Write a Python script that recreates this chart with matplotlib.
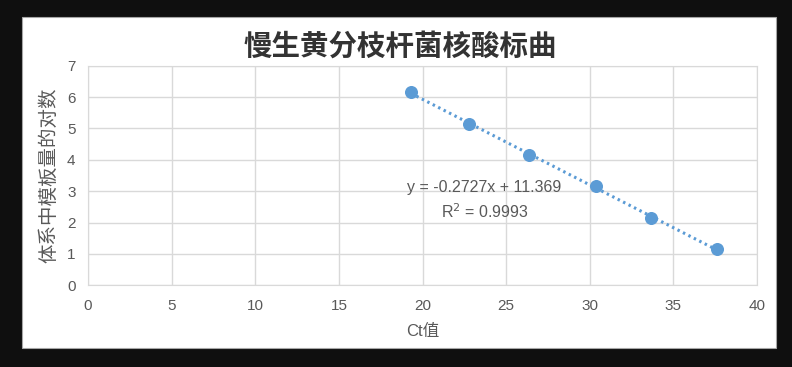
import numpy as np
import matplotlib.pyplot as plt
from matplotlib.patches import Rectangle

# Ct values and log of template amount
ct = [19.31, 22.79, 26.36, 30.40, 33.65, 37.62]
log_amount = [6.15, 5.15, 4.15, 3.15, 2.15, 1.15]
x_ticks = [0, 5, 10, 15, 20, 25, 30, 35, 40]
y_ticks = [0, 1, 2, 3, 4, 5, 6, 7]
title = '慢生黄分枝杆菌核酸标曲'
x_label = 'Ct值'
y_label = '体系中模板量的对数'
eq_text = 'y = -0.2727x + 11.369'
r2_text = 'R$^2$ = 0.9993'

plt.rcParams['font.family'] = ['Liberation Sans', 'Noto Sans CJK SC', 'DejaVu Sans']
blue = '#5b9bd5'
grey = '#595959'

fig = plt.figure(figsize=(7.92, 3.67), dpi=100, facecolor='#0f0f0f')
# white chart area with a thin border
fig.patches.append(Rectangle((22/792, 1-348/367), 754/792, 331/367, transform=fig.transFigure,
                             facecolor='white', edgecolor='#a6a6a6', lw=0.8, zorder=-5))

ax = fig.add_axes([88/792, 1-285.3/367, (757-88)/792, (285.3-65.7)/367])
ax.set_facecolor('white')
ax.set_xlim(0, 40)
ax.set_ylim(0, 7)
ax.set_xticks(x_ticks)
ax.set_yticks(y_ticks)
ax.grid(True, color='#d9d9d9', lw=1)
ax.set_axisbelow(True)
for s in ax.spines.values():
    s.set_color('#d9d9d9')
ax.tick_params(length=0, colors=grey, labelsize=11)
ax.tick_params(axis='x', pad=10)
ax.tick_params(axis='y', pad=9)

# linear fit trendline
k, b = np.polyfit(ct, log_amount, 1)
xs = np.array([min(ct), max(ct)])
ax.plot(xs, k*xs + b, color=blue, lw=2.2, ls=(0, (0.8, 1.2)), zorder=2)
ax.scatter(ct, log_amount, s=70, color=blue, zorder=3)

ax.text(23.7, 3.13, eq_text, ha='center', va='center', fontsize=11.5, color=grey, family=['Liberation Sans', 'DejaVu Sans'])
ax.text(23.7, 2.36, r2_text, ha='center', va='center', fontsize=11.5, color=grey, family=['Liberation Sans', 'DejaVu Sans'])

ax.set_xlabel(x_label, fontsize=12, color=grey, labelpad=8)
ax.set_ylabel(y_label, fontsize=14, color=grey, labelpad=6)

fig.text(400/792, 1-47/367, title, ha='center', va='center', fontsize=20.5, fontweight='bold',
         color='#333333', family=['Noto Sans CJK SC'])

plt.savefig('out.png', dpi=100, facecolor=fig.get_facecolor())
